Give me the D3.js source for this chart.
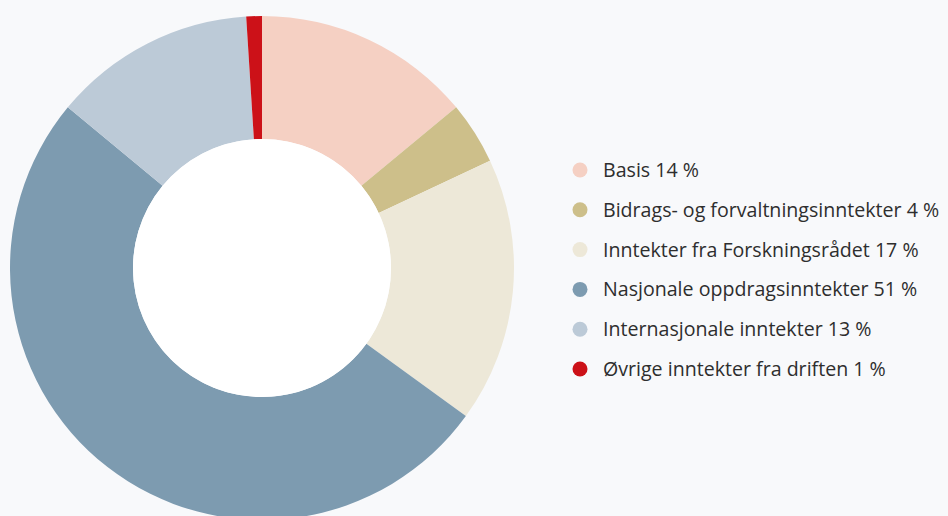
<!DOCTYPE html>
<html>
<head>
<meta charset="utf-8">
<script src="https://cdn.jsdelivr.net/npm/d3@7"></script>
<style>
  html, body { margin: 0; padding: 0; background: #f8f9fb; }
  svg { display: block; }
</style>
</head>
<body>
<svg id="chart" width="948" height="516"></svg>
<script>
const categories = [
  'Basis',
  'Bidrags- og forvaltningsinntekter',
  'Inntekter fra Forskningsrådet',
  'Nasjonale oppdragsinntekter',
  'Internasjonale inntekter',
  'Øvrige inntekter fra driften'
];
const values = [14, 4, 17, 51, 13, 1];
const colors = ['#f5d0c3', '#cdbf8a', '#ede8d8', '#7d9bb0', '#bccad7', '#cc1118'];

const svg = d3.select('#chart');
const cx = 262, cy = 268;
const outerR = 252, innerR = 129;

const data = categories.map((c, i) => ({ name: c, value: values[i], color: colors[i] }));

const pie = d3.pie().value(d => d.value).sort(null);
const arc = d3.arc().innerRadius(innerR).outerRadius(outerR);

const g = svg.append('g').attr('transform', `translate(${cx},${cy})`);
g.selectAll('path')
  .data(pie(data))
  .join('path')
  .attr('d', arc)
  .attr('fill', d => d.data.color);

g.append('circle').attr('r', innerR).attr('fill', '#fff');

// legend
const legend = svg.append('g').attr('transform', 'translate(580,170)');
const rows = legend.selectAll('g')
  .data(data)
  .join('g')
  .attr('transform', (d, i) => `translate(0,${i * 39.8})`);

rows.append('circle')
  .attr('r', 7.5)
  .attr('fill', d => d.color);

rows.append('text')
  .attr('x', 23)
  .attr('dy', '0.36em')
  .attr('font-family', 'Open Sans, sans-serif')
  .attr('font-size', 19.6)
  .attr('fill', '#2e2e2e')
  .text(d => `${d.name} ${d.value} %`);
</script>
</body>
</html>
